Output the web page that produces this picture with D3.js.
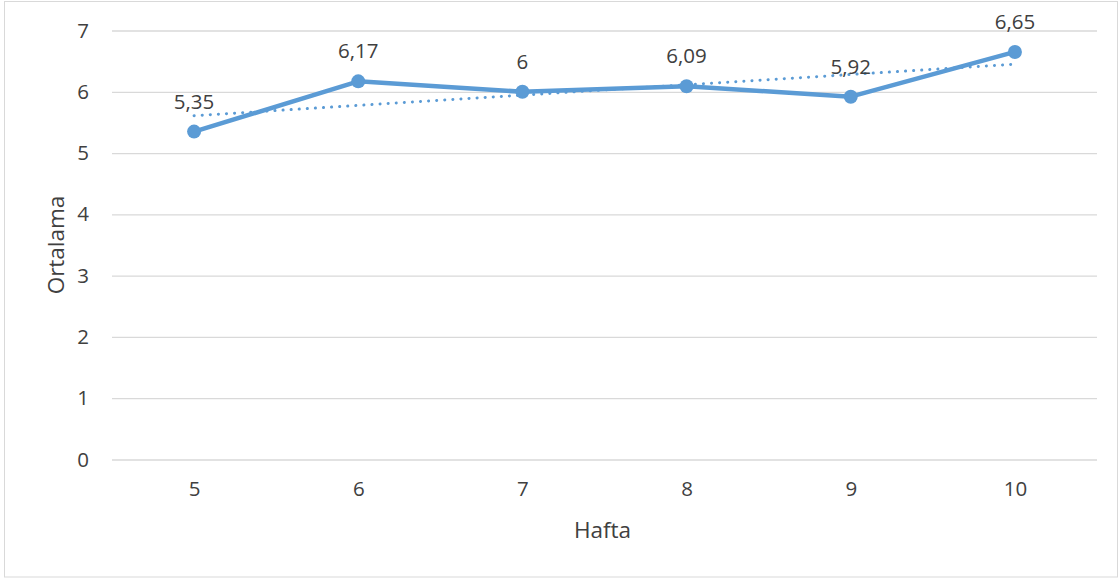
<!DOCTYPE html>
<html>
<head>
<meta charset="utf-8">
<script src="https://cdn.jsdelivr.net/npm/d3@7"></script>
<style>
  html, body { margin: 0; padding: 0; background: #fff; }
  svg text { font-family: "Open Sans", "Noto Sans", sans-serif; fill: #404040; }
</style>
</head>
<body>
<svg id="chart" width="1119" height="578"></svg>
<script>
// Weekly averages (Hafta = week, Ortalama = average)
const weeks = ["5", "6", "7", "8", "9", "10"];
const averages = [5.35, 6.17, 6, 6.09, 5.92, 6.65];
const valueLabels = ["5,35", "6,17", "6", "6,09", "5,92", "6,65"];
// Linear trendline end values at the first and last week
const trendWeeks = ["5", "10"];
const trendValues = [5.61, 6.45];
const yTicks = [0, 1, 2, 3, 4, 5, 6, 7];

const svg = d3.select("#chart");
const W = 1119, H = 578;
const plot = { left: 112, right: 1097, top: 30.5, bottom: 459.5 };
const color = "#5B9BD5";
const tickSize = 20.5, titleSize = 22.5;

// Outer chart frame
svg.append("rect")
  .attr("x", 4.5).attr("y", 1.5)
  .attr("width", W - 6).attr("height", H - 2.5)
  .attr("fill", "#fff").attr("stroke", "#d9d9d9").attr("stroke-width", 1);

const x = d3.scalePoint().domain(weeks).range([plot.left, plot.right]).padding(0.5);
const y = d3.scaleLinear().domain([0, 7]).range([plot.bottom, plot.top]);

// Horizontal gridlines + y labels
const yAxis = d3.axisLeft(y).tickValues(yTicks).tickFormat(d3.format("d"))
  .tickSize(-(plot.right - plot.left)).tickPadding(16);
const gy = svg.append("g").attr("transform", `translate(${plot.left},0)`).call(yAxis);
gy.select(".domain").remove();
gy.selectAll(".tick line").attr("stroke", "#d9d9d9").attr("stroke-width", 1.3);
gy.selectAll(".tick text").attr("font-size", tickSize).attr("fill", "#595959")
  .attr("font-family", "'Open Sans', sans-serif").attr("x", -23);

// X labels
const xAxis = d3.axisBottom(x).tickSize(0).tickPadding(22);
const gx = svg.append("g").attr("transform", `translate(0,${plot.bottom})`).call(xAxis);
gx.select(".domain").remove();
gx.selectAll(".tick text").attr("font-size", tickSize).attr("fill", "#595959")
  .attr("font-family", "'Open Sans', sans-serif");

// Axis titles
svg.append("text").attr("x", x("7") + (x("8") - x("7")) / 2 - 2).attr("y", 538)
  .attr("text-anchor", "middle").attr("font-size", titleSize).attr("fill", "#595959")
  .text("Hafta");
svg.append("text")
  .attr("transform", `translate(64,${(plot.top + plot.bottom) / 2}) rotate(-90)`)
  .attr("text-anchor", "middle").attr("font-size", titleSize).attr("fill", "#595959")
  .text("Ortalama");

// Data line
const line = d3.line().x((d, i) => x(weeks[i])).y(d => y(d));
svg.append("path").datum(averages)
  .attr("d", line).attr("fill", "none")
  .attr("stroke", color).attr("stroke-width", 4.5)
  .attr("stroke-linejoin", "round").attr("stroke-linecap", "round");

// Dotted trendline
const trendLine = d3.line().x((d, i) => x(trendWeeks[i])).y(d => y(d));
svg.append("path").datum(trendValues)
  .attr("d", trendLine).attr("fill", "none")
  .attr("stroke", color).attr("stroke-width", 3)
  .attr("stroke-dasharray", "0.1 8").attr("stroke-linecap", "round");

// Markers
svg.append("g").selectAll("circle").data(averages).join("circle")
  .attr("cx", (d, i) => x(weeks[i])).attr("cy", d => y(d))
  .attr("r", 7).attr("fill", color);

// Value labels
svg.append("g").selectAll("text").data(averages).join("text")
  .attr("x", (d, i) => x(weeks[i])).attr("y", d => y(d) - 23)
  .attr("text-anchor", "middle").attr("font-size", tickSize).attr("fill", "#404040")
  .text((d, i) => valueLabels[i]);
</script>
</body>
</html>
